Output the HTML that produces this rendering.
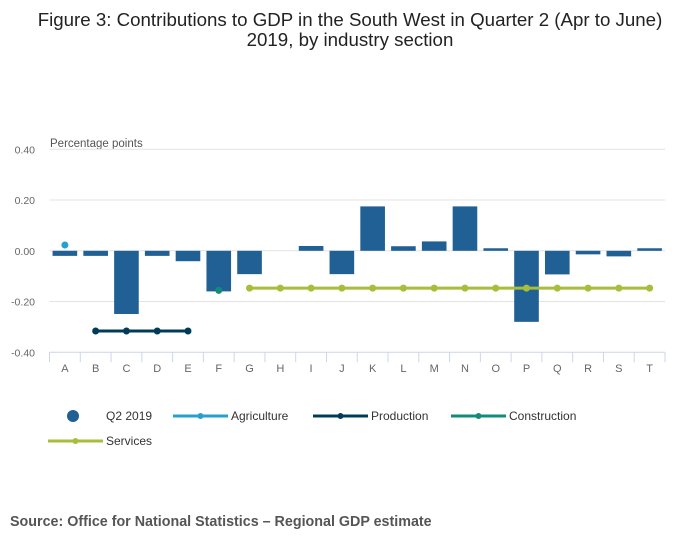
<!DOCTYPE html>
<html><head><meta charset="utf-8"><style>
body{margin:0;background:#fff;font-family:"Liberation Sans",sans-serif;}
</style></head><body>
<svg width="700" height="549" xmlns="http://www.w3.org/2000/svg" font-family="Liberation Sans, sans-serif">
<g id="root"></g>
</svg>
<script>
const categories=["A","B","C","D","E","F","G","H","I","J","K","L","M","N","O","P","Q","R","S","T"];
const q2Values=[-0.02,-0.02,-0.249,-0.02,-0.041,-0.16,-0.092,0,0.019,-0.092,0.175,0.018,0.037,0.175,0.01,-0.28,-0.093,-0.014,-0.022,0.01];
const agricultureValues=[0.023];
const agricultureCats=["A"];
const productionValues=[-0.316,-0.316,-0.316,-0.316];
const productionCats=["B","C","D","E"];
const constructionValues=[-0.156];
const constructionCats=["F"];
const servicesValues=[-0.147,-0.147,-0.147,-0.147,-0.147,-0.147,-0.147,-0.147,-0.147,-0.147,-0.147,-0.147,-0.147,-0.147];
const servicesCats=["G","H","I","J","K","L","M","N","O","P","Q","R","S","T"];
const yTicks=[0.4,0.2,0,-0.2,-0.4];
const yTickLabels=["0.40","0.20","0.00","-0.20","-0.40"];

const NS="http://www.w3.org/2000/svg";
const root=document.getElementById('root');
const X0=49.5,X1=665,Y0=352.3,Y1=149.3,ymin=-0.4,ymax=0.4;
const band=(X1-X0)/categories.length;
function xPos(c){return X0+band*(categories.indexOf(c)+0.5);}
function yPos(v){return Y0+(v-ymin)/(ymax-ymin)*(Y1-Y0);}
function mk(tag,attrs,txt){const e=document.createElementNS(NS,tag);for(const k in attrs)e.setAttribute(k,attrs[k]);if(txt!=null)e.textContent=txt;root.appendChild(e);return e;}

let t=mk('text',{x:350,y:26,'text-anchor':'middle','font-size':18.7,fill:'#222'},'Figure 3: Contributions to GDP in the South West in Quarter 2 (Apr to June)');


t=mk('text',{x:350,y:46,'text-anchor':'middle','font-size':18.7,fill:'#222'},'2019, by industry section');


t=mk('text',{x:50,y:147,'font-size':11.5,fill:'#555'},'Percentage points');



yTicks.forEach((v,i)=>{
  const y=yPos(v);
  if(v!==ymin){const g=mk('line',{x1:X0,x2:X1,y1:y,y2:y,stroke:'#e3e3e3','stroke-width':1});
  
  }
  const l=mk('text',{x:35,y:y+4,'text-anchor':'end','font-size':10.5,fill:'#666'},yTickLabels[i]);
  
  
});
let ax=mk('line',{x1:X0,x2:X1,y1:Y0,y2:Y0,stroke:'#ccd6eb','stroke-width':1});


for(let i=0;i<=categories.length;i++){
  const x=X0+band*i;
  const tk=mk('line',{x1:x,x2:x,y1:Y0,y2:Y0+10,stroke:'#ccd6eb','stroke-width':1});
  
  
}
categories.forEach((c,i)=>{
  const l=mk('text',{x:xPos(c),y:372,'text-anchor':'middle','font-size':11,fill:'#666'},c);
  
  
  const v=q2Values[i];
  const y0=yPos(0),y=yPos(v);
  const w=band*0.8;
  const b=mk('rect',{x:xPos(c)-w/2,y:Math.min(y0,y),width:w,height:Math.abs(y-y0),fill:'#206095'});
  
  
});
function series(cats,vals,color,name){
  if(cats.length>1){
    const p=mk('polyline',{points:cats.map((c,i)=>xPos(c)+','+yPos(vals[i])).join(' '),fill:'none',stroke:color,'stroke-width':3});
    
    
  }
  cats.forEach((c,i)=>{
    const d=mk('circle',{cx:xPos(c),cy:yPos(vals[i]),r:3.5,fill:color});
    
    
  });
}
series(agricultureCats,agricultureValues,'#27a0cc','agriculture');
series(productionCats,productionValues,'#003c57','production');
series(constructionCats,constructionValues,'#118c7b','construction');
series(servicesCats,servicesValues,'#a8bd3a','services');

function legend(x,y,type,color,label,name){
  if(type==='dot'){const c=mk('circle',{cx:x+25,cy:y,r:6,fill:color});
    
    }
  else{const l=mk('line',{x1:x,x2:x+55,y1:y,y2:y,stroke:color,'stroke-width':3});
    
    
    const c=mk('circle',{cx:x+27.5,cy:y,r:3,fill:color});
    
    }
  const t=mk('text',{x:x+58,y:y+4,'font-size':12,fill:'#333'},label);
  
  
}
legend(48,416,'dot','#206095','Q2 2019','q2-2019');
legend(173,416,'line','#27a0cc','Agriculture','agriculture');
legend(313,416,'line','#003c57','Production','production');
legend(451,416,'line','#118c7b','Construction','construction');
legend(48,441,'line','#a8bd3a','Services','services');

t=mk('text',{x:10,y:526,'font-size':14.3,'font-weight':'bold',fill:'#555'},'Source: Office for National Statistics – Regional GDP estimate');


</script>
</body></html>
